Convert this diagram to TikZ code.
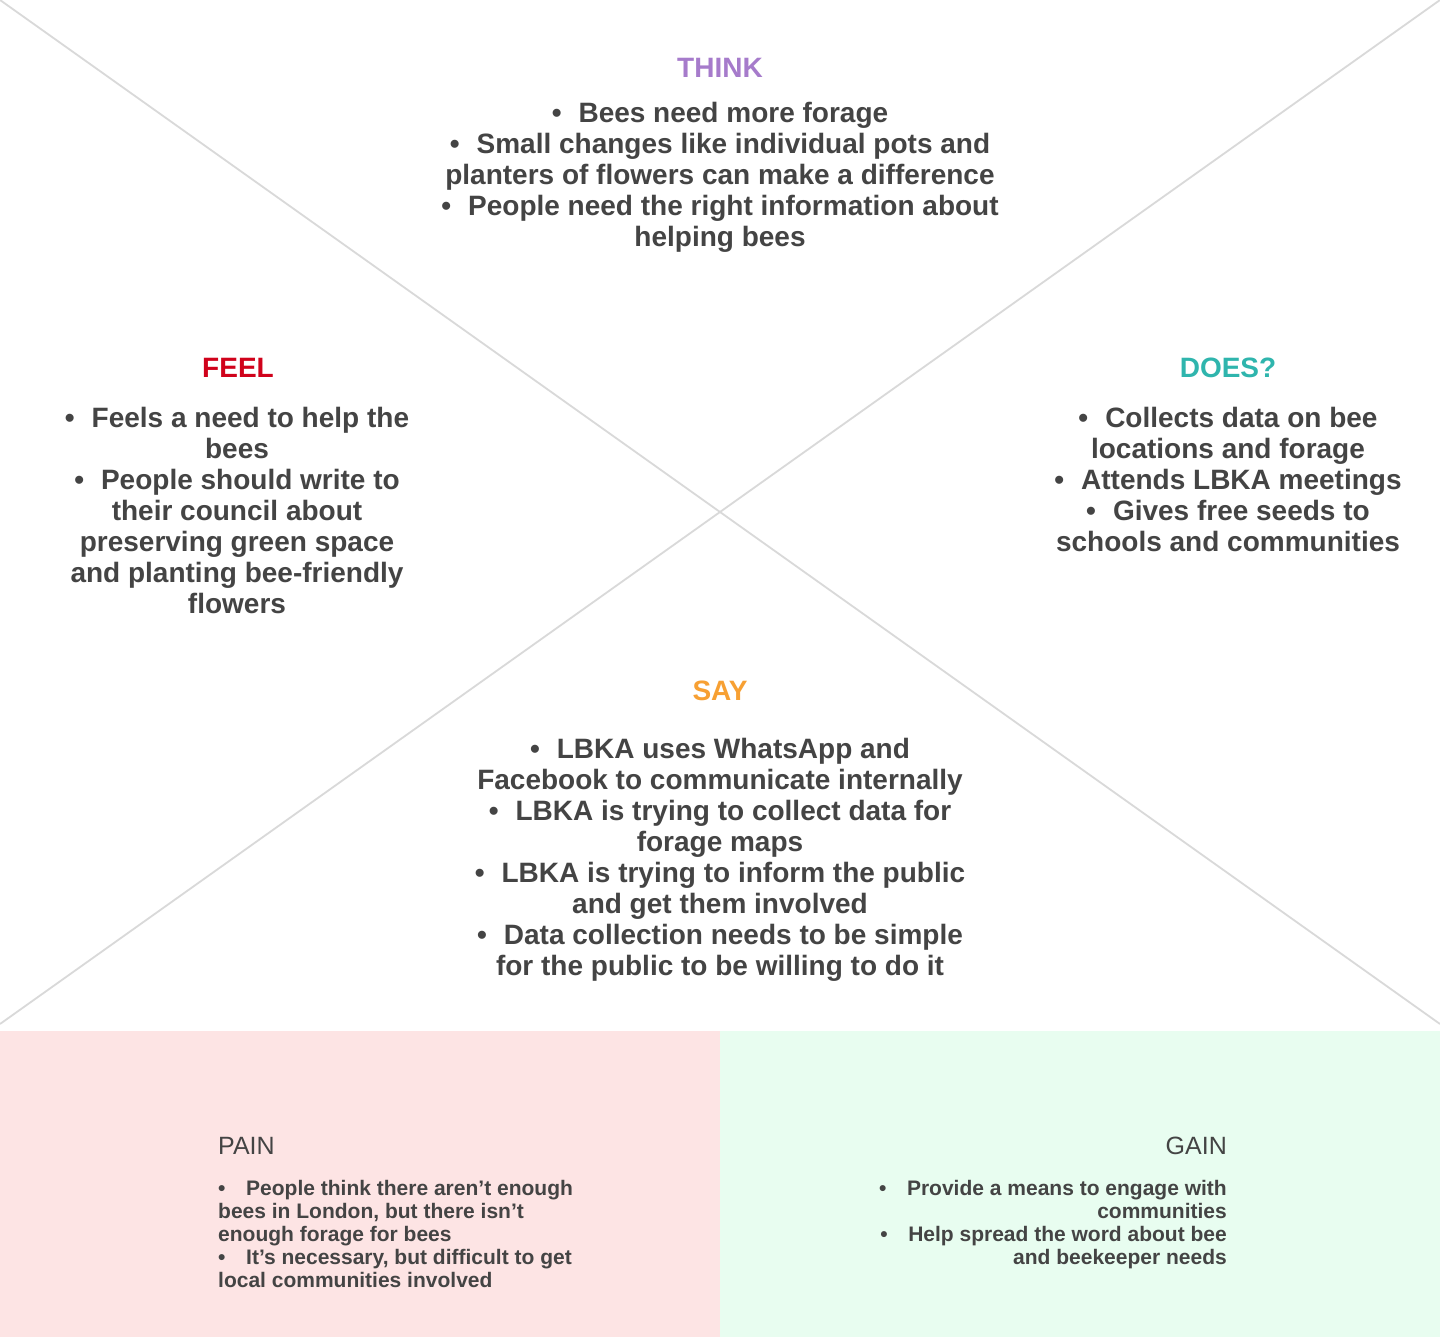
\documentclass[tikz,border=0pt]{standalone}
\usepackage{fontspec}
\setmainfont{Liberation Sans}
\definecolor{txt}{HTML}{444444}
\definecolor{thinkc}{HTML}{A67BCB}
\definecolor{feelc}{HTML}{D0021B}
\definecolor{doesc}{HTML}{2FB5AD}
\definecolor{sayc}{HTML}{F7A033}
\definecolor{painbg}{HTML}{FDE4E4}
\definecolor{gainbg}{HTML}{E8FDF0}
\definecolor{linec}{HTML}{D9D9D9}
\newcommand{\bul}{\textbullet\hspace{17pt}}
\newcommand{\sbul}{\makebox[28pt][l]{\textbullet}}
\begin{document}
\begin{tikzpicture}[x=1pt,y=-1pt,
  title/.style={font=\fontsize{28}{31}\selectfont\bfseries, inner sep=0pt},
  body/.style={font=\fontsize{28}{31}\selectfont\bfseries, text=txt, align=center, inner sep=0pt, anchor=north},
  smalltitle/.style={font=\fontsize{25}{30}\selectfont, text=txt, inner sep=0pt},
  smallbody/.style={font=\fontsize{21}{23}\selectfont\bfseries, text=txt, inner sep=0pt},
  divider/.style={draw=linec, line width=1.8pt}]
\useasboundingbox (0,0) rectangle (1440,1337);
\fill[white] (0,0) rectangle (1440,1337);
% bottom panels
\fill[painbg] (0,1031) rectangle (720,1337);
\fill[gainbg] (720,1031) rectangle (1440,1337);
% diagonals
\coordinate (tl) at (0,0);
\coordinate (tr) at (1440,0);
\coordinate (bl) at (0,1024);
\coordinate (br) at (1440,1024);
\draw[divider] (tl) -- (br);
\draw[divider] (tr) -- (bl);
% THINK
\node[title, text=thinkc] (think) at (720,68) {THINK};
\node[body] (thinkb) at (720,102) {\bul Bees need more forage\\
\bul Small changes like individual pots and\\
planters of flowers can make a difference\\
\bul People need the right information about\\
helping bees};
% FEEL
\node[title, text=feelc] (feel) at (238,368) {FEEL};
\node[body] (feelb) at (237,407) {\bul Feels a need to help the\\
bees\\
\bul People should write to\\
their council about\\
preserving green space\\
and planting bee-friendly\\
flowers};
% DOES
\node[title, text=doesc] (does) at (1228,368) {DOES?};
\node[body] (doesb) at (1228,407) {\bul Collects data on bee\\
locations and forage\\
\bul Attends LBKA meetings\\
\bul Gives free seeds to\\
schools and communities};
% SAY
\node[title, text=sayc] (say) at (720,691) {SAY};
\node[body] (sayb) at (720,738) {\bul LBKA uses WhatsApp and\\
Facebook to communicate internally\\
\bul LBKA is trying to collect data for\\
forage maps\\
\bul LBKA is trying to inform the public\\
and get them involved\\
\bul Data collection needs to be simple\\
for the public to be willing to do it};
% PAIN
\node[smalltitle, anchor=west] (pain) at (218,1146) {PAIN};
\node[smallbody, anchor=north west, align=left] (painb) at (218,1180) {\sbul People think there aren’t enough\\
bees in London, but there isn’t\\
enough forage for bees\\
\sbul It’s necessary, but difficult to get\\
local communities involved};
% GAIN
\node[smalltitle, anchor=east] (gain) at (1227,1146) {GAIN};
\node[smallbody, anchor=north east, align=right] (gainb) at (1227,1180) {\sbul Provide a means to engage with\\
communities\\
\sbul Help spread the word about bee\\
and beekeeper needs};
\end{tikzpicture}
\end{document}
